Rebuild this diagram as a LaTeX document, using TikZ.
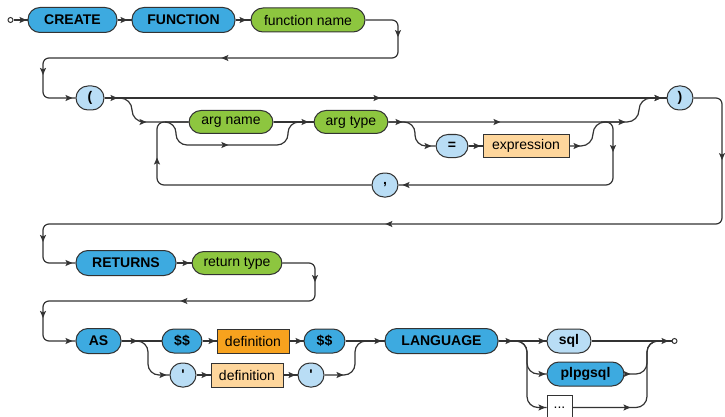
\documentclass[tikz,border=0pt]{standalone}
\usepackage{fontspec}
\setmainfont{Liberation Sans}
\usetikzlibrary{arrows.meta,decorations.markings}
\definecolor{kwblue}{HTML}{3DAAE0}
\definecolor{kwlight}{HTML}{B9DDF5}
\definecolor{ntgreen}{HTML}{8DC63F}
\definecolor{darkorange}{HTML}{F7A21E}
\definecolor{lightorange}{HTML}{FED69C}
\definecolor{lineclr}{HTML}{333333}
\tikzset{rrtip/.tip={Stealth[length=7pt,width=6pt,inset=1.5pt]}}
\begin{document}
\begin{tikzpicture}[x=1pt,y=-1pt,
  font=\fontsize{14}{16}\selectfont,
  base/.style={draw=lineclr, line width=1pt, minimum height=24pt, inner sep=0pt, text=black},
  kw/.style={base, fill=kwblue, rounded corners=12pt, font=\fontsize{14}{16}\selectfont\bfseries},
  kwl/.style={base, fill=kwlight, rounded corners=12pt, font=\fontsize{14}{16}\selectfont\bfseries},
  nt/.style={base, fill=ntgreen, rounded corners=12pt},
  bx/.style={base, fill=#1},
  term/.style={circle, draw=lineclr, fill=white, line width=1pt, minimum size=5pt, inner sep=0pt},
  conn/.style={draw=lineclr, color=lineclr, line width=1.2pt},
  am/.style={postaction={decorate,decoration={markings,mark=at position #1 with {\arrow{rrtip}}}}},
]
\useasboundingbox (0,0) rectangle (725,417);

% nodes
\node[term] (start) at (10.5,20) {};
\node[kw, minimum width=89pt, minimum height=25pt] (create) at (72.5,20) {CREATE};
\node[kw, minimum width=103pt, minimum height=25pt] (function) at (183.5,20) {FUNCTION};
\node[nt, minimum width=114pt] (fname) at (308,20) {function name};
\node[kwl, minimum width=28pt] (lpar) at (90,98) {(};
\node[kwl, minimum width=26pt] (rpar) at (680,98) {)};
\node[nt, minimum width=84pt, minimum height=23pt] (argname) at (231,122) {arg name};
\node[nt, minimum width=74pt, minimum height=23pt] (argtype) at (351,122) {arg type};
\node[kwl, minimum width=32pt, minimum height=23pt] (eq) at (452,146) {=};
\node[bx=lightorange, minimum width=86pt, minimum height=23pt] (expr) at (526,146) {expression};
\node[kwl, minimum width=26pt] (comma) at (385,185) {,};
\node[kw, minimum width=100pt, minimum height=25pt] (returns) at (126,263) {RETURNS};
\node[nt, minimum width=90pt, minimum height=23pt] (rettype) at (237,263) {return type};
\node[kw, minimum width=45pt, minimum height=25pt] (as) at (98.5,341) {AS};
\node[kw, minimum width=40pt] (dd1) at (182,341) {\$\$};
\node[bx=darkorange, minimum width=72pt] (def1) at (253,341) {definition};
\node[kw, minimum width=41pt] (dd2) at (324.5,341) {\$\$};
\node[kw, minimum width=113pt, minimum height=25pt] (language) at (441.5,341) {LANGUAGE};
\node[kwl, minimum width=44pt] (sql) at (569,341) {sql};
\node[kwl, minimum width=26pt] (q1) at (183,375) {\textquotesingle};
\node[bx=lightorange, minimum width=72pt] (def2) at (247,375) {definition};
\node[kwl, minimum width=26pt] (q2) at (311,375) {\textquotesingle};
\node[kw, minimum width=77pt] (plpgsql) at (585.5,374) {plpgsql};
\node[bx=white, minimum width=25pt, minimum height=25pt] (dots) at (559.5,407.5) {...};
\node[term] (end) at (674.5,341) {};

\coordinate (b1) at (165,122);
\coordinate (j1) at (620,122);
\coordinate (j2) at (601,122);

% row 1
\draw[conn, am=-1pt] (start) -- (create);
\draw[conn, am=-4pt] (create) -- (function);
\draw[conn, am=-4pt] (function) -- (fname);
\draw[conn, rounded corners=6pt, am=47pt, am=242pt, am=-53pt, am=-3pt]
  (fname.east) -| (398,58) -| (43,98) -- (lpar.west);

% row 2
\draw[conn, am=13pt, am=276pt, am=-5pt] (lpar) -- (rpar);
\draw[conn, rounded corners=12pt, am=-42pt] (lpar.east) -| (132,122) -- (argname.west);
\draw[conn, am=-5pt] (argname) -- (argtype);
\draw[conn, rounded corners=11pt, am=77pt] (b1) -| (176,145) -| (288,122) -- (argtype.west);
\draw[conn, rounded corners=12pt, am=14pt, am=112pt, am=237pt, am=-5pt]
  (argtype.east) -| (639,98) -- (rpar.west);
\draw[conn, rounded corners=11pt, am=-4pt] (argtype.east) -| (415,146) -- (eq.west);
\draw[conn, am=-2pt] (eq) -- (expr);
\draw[conn, rounded corners=12pt, am=11pt] (expr.east) -| (593,122) -- (j1);
\draw[conn, rounded corners=7pt, am=39pt, am=-4pt] (j2) -| (613,185) -- (comma.east);
\draw[conn, rounded corners=7pt, am=239pt] (comma.west) -| (157,122) -- (argname.west);
\draw[conn, rounded corners=6pt, am=88pt, am=486pt, am=-51pt, am=-3pt]
  (rpar.east) -| (722,224) -| (43,263) -- (returns.west);

% row 3
\draw[conn, am=-2pt] (returns) -- (rettype);
\draw[conn, rounded corners=6pt, am=49pt, am=200pt, am=-53pt, am=-3pt]
  (rettype.east) -| (315,301) -| (43,341) -- (as.west);

% row 4
\draw[conn, am=16pt] (as) -- (dd1);
\draw[conn, am=-1pt] (dd1) -- (def1);
\draw[conn, am=-1pt] (def1) -- (dd2);
\draw[conn, am=-3pt] (dd2) -- (language);
\draw[conn, rounded corners=11pt, am=-3pt] (as.east) -| (148,375) -- (q1.west);
\draw[conn, am=-2pt] (q1) -- (def2);
\draw[conn, am=-2pt] (def2) -- (q2);
\draw[conn, rounded corners=11pt, am=19pt] (q2.east) -| (355,341) -- (language.west);
\draw[conn, am=14pt, am=-1pt] (language) -- (sql);
\draw[conn, rounded corners=11pt, am=-1pt] (language.east) -| (527,374) -- (plpgsql.west);
\draw[conn, rounded corners=11pt, am=-1pt] (language.east) -| (527,407.5) -- (dots.west);
\draw[conn, am=-3pt] (sql) -- (end);
\draw[conn, rounded corners=11pt, am=6pt] (plpgsql.east) -| (647,341) -- (end.west);
\draw[conn, rounded corners=11pt, am=58pt] (dots.east) -| (647,341) -- (end.west);
\end{tikzpicture}
\end{document}
